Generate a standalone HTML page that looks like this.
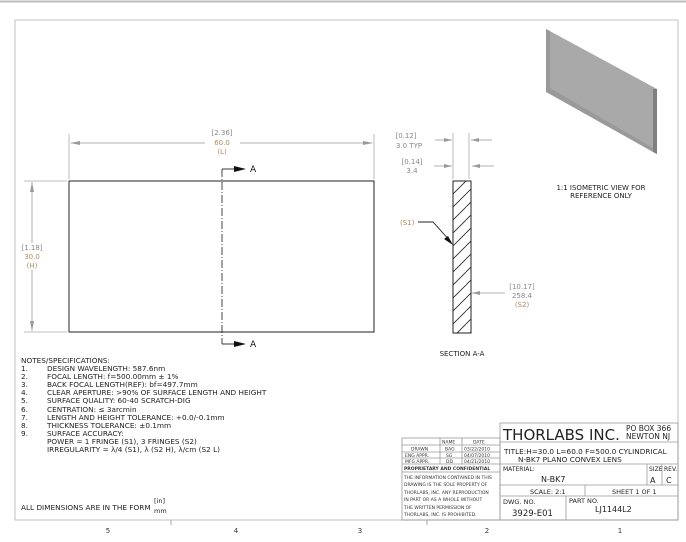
<!DOCTYPE html>
<html><head><meta charset="utf-8"><style>
html,body{margin:0;padding:0;background:#fff;}
svg{display:block;font-family:"DejaVu Sans","Liberation Sans",sans-serif;}
</style></head><body>
<svg width="686" height="542" viewBox="0 0 686 542" xmlns="http://www.w3.org/2000/svg">
<defs>
<pattern id="h" width="13" height="13" patternUnits="userSpaceOnUse" patternTransform="translate(453,181)">
<line x1="0" y1="13" x2="13" y2="0" stroke="#222" stroke-width="0.8"/>
<line x1="-13" y1="13" x2="0" y2="0" stroke="#222" stroke-width="0.8"/>
<line x1="13" y1="13" x2="26" y2="0" stroke="#222" stroke-width="0.8"/>
</pattern>
</defs>
<line x1="0" y1="1.5" x2="686" y2="1.5" stroke="#bbb" stroke-width="2"/>
<rect x="15" y="20" width="663" height="500" fill="none" stroke="#ccc" stroke-width="1.2"/>

<!-- iso view -->
<polygon points="546,29 657,89 657,154 546,92" fill="#a9a9a9"/>
<polygon points="546,29 550,31 550,94 546,92" fill="#999"/>
<polygon points="653,89 657,89 657,154 653,152" fill="#808080"/>
<polygon points="550,88 653,148 653,152 550,94" fill="#9a9a9a"/>
<text x="601" y="190" font-size="7" text-anchor="middle" fill="#222">1:1 ISOMETRIC VIEW FOR</text>
<text x="601" y="198" font-size="7" text-anchor="middle" fill="#222">REFERENCE ONLY</text>

<!-- front view -->
<rect x="69" y="181" width="305" height="151" fill="none" stroke="#222" stroke-width="1"/>
<line x1="69" y1="134" x2="69" y2="179" stroke="#aaa" stroke-width="0.8"/>
<line x1="374" y1="134" x2="374" y2="179" stroke="#aaa" stroke-width="0.8"/>
<line x1="71" y1="143" x2="205" y2="143" stroke="#999" stroke-width="0.8"/>
<line x1="240" y1="143" x2="372" y2="143" stroke="#999" stroke-width="0.8"/>
<polygon points="70,143 80,141 80,145" fill="#999"/>
<polygon points="373,143 363,141 363,145" fill="#999"/>
<text x="222" y="135" font-size="7" text-anchor="middle" fill="#888">[2.36]</text>
<text x="222" y="145" font-size="7" text-anchor="middle" fill="#b08a5a">60.0</text>
<text x="222" y="154" font-size="7" text-anchor="middle" fill="#b08a5a">(L)</text>
<line x1="24" y1="181" x2="67" y2="181" stroke="#aaa" stroke-width="0.8"/>
<line x1="24" y1="332" x2="67" y2="332" stroke="#aaa" stroke-width="0.8"/>
<line x1="32" y1="182" x2="32" y2="243" stroke="#999" stroke-width="0.8"/>
<line x1="32" y1="270" x2="32" y2="331" stroke="#999" stroke-width="0.8"/>
<polygon points="32,182 30,192 34,192" fill="#999"/>
<polygon points="32,331 30,321 34,321" fill="#999"/>
<text x="32" y="250" font-size="7" text-anchor="middle" fill="#888">[1.18]</text>
<text x="32" y="259" font-size="7" text-anchor="middle" fill="#b08a5a">30.0</text>
<text x="32" y="268" font-size="7" text-anchor="middle" fill="#b08a5a">(H)</text>
<line x1="222" y1="169" x2="222" y2="344" stroke="#333" stroke-width="0.9" stroke-dasharray="8,2,1,2"/>
<polyline points="222,169 236,169" fill="none" stroke="#222" stroke-width="0.9"/>
<polygon points="234,166 246,169 234,172" fill="#111"/>
<text x="250" y="172" font-size="9" fill="#111">A</text>
<polyline points="222,344 236,344" fill="none" stroke="#222" stroke-width="0.9"/>
<polygon points="234,341 246,344 234,347" fill="#111"/>
<text x="250" y="347" font-size="9" fill="#111">A</text>

<!-- section -->
<rect x="453" y="181" width="18" height="152" fill="url(#h)" stroke="#222" stroke-width="1"/>
<line x1="453" y1="133" x2="453" y2="179" stroke="#aaa" stroke-width="0.8"/>
<line x1="469" y1="133" x2="469" y2="179" stroke="#aaa" stroke-width="0.8"/>
<line x1="435" y1="140" x2="452" y2="140" stroke="#999" stroke-width="0.8"/>
<polygon points="452,140 444,138 444,142" fill="#999"/>
<line x1="471" y1="140" x2="492" y2="140" stroke="#999" stroke-width="0.8"/>
<polygon points="471,140 479,138 479,142" fill="#999"/>
<line x1="434" y1="166" x2="452" y2="166" stroke="#999" stroke-width="0.8"/>
<polygon points="452,166 444,164 444,168" fill="#999"/>
<line x1="472" y1="166" x2="494" y2="166" stroke="#999" stroke-width="0.8"/>
<polygon points="472,166 480,164 480,168" fill="#999"/>
<text x="406" y="138" font-size="7" text-anchor="middle" fill="#888">[0.12]</text>
<text x="396" y="148" font-size="7" fill="#888">3.0  TYP</text>
<text x="412" y="164" font-size="7" text-anchor="middle" fill="#888">[0.14]</text>
<text x="412" y="173" font-size="7" text-anchor="middle" fill="#888">3.4</text>
<text x="400" y="225" font-size="7" fill="#b08a5a">(S1)</text>
<polyline points="418,222 433,222 451,242" fill="none" stroke="#222" stroke-width="0.9"/>
<polygon points="453,245 444,239 448,236" fill="#111"/>
<line x1="472" y1="293" x2="505" y2="293" stroke="#999" stroke-width="0.8"/>
<polygon points="472,293 480,291 480,295" fill="#999"/>
<text x="522" y="289" font-size="7" text-anchor="middle" fill="#888">[10.17]</text>
<text x="522" y="298" font-size="7" text-anchor="middle" fill="#888">258.4</text>
<text x="522" y="307" font-size="7" text-anchor="middle" fill="#b08a5a">(S2)</text>
<text x="462" y="356" font-size="7" text-anchor="middle" fill="#222">SECTION A-A</text>

<!-- notes -->
<g font-size="7.3" fill="#222">
<text x="21" y="363">NOTES/SPECIFICATIONS:</text>
<text x="21" y="371">1.</text><text x="47" y="371">DESIGN WAVELENGTH: 587.6nm</text>
<text x="21" y="379">2.</text><text x="47" y="379">FOCAL LENGTH: f=500.00mm ± 1%</text>
<text x="21" y="387">3.</text><text x="47" y="387">BACK FOCAL LENGTH(REF): bf=497.7mm</text>
<text x="21" y="395">4.</text><text x="47" y="395">CLEAR APERTURE: &gt;90% OF SURFACE LENGTH AND HEIGHT</text>
<text x="21" y="403">5.</text><text x="47" y="403">SURFACE QUALITY: 60-40 SCRATCH-DIG</text>
<text x="21" y="412">6.</text><text x="47" y="412">CENTRATION: ≤ 3arcmin</text>
<text x="21" y="420">7.</text><text x="47" y="420">LENGTH AND HEIGHT TOLERANCE: +0.0/-0.1mm</text>
<text x="21" y="428">8.</text><text x="47" y="428">THICKNESS TOLERANCE: ±0.1mm</text>
<text x="21" y="436">9.</text><text x="47" y="436">SURFACE ACCURACY:</text>
<text x="47" y="444">POWER = 1 FRINGE (S1), 3 FRINGES (S2)</text>
<text x="47" y="452">IRREGULARITY = λ/4 (S1), λ (S2 H), λ/cm (S2 L)</text>
<text x="21" y="510">ALL DIMENSIONS ARE IN THE FORM</text>
<text x="154" y="503" font-size="6.5">[in]</text>
<text x="154" y="513" font-size="6.5">mm</text>
</g>

<!-- zone numbers -->
<g font-size="7" fill="#333" text-anchor="middle">
<text x="108" y="533">5</text><text x="236" y="533">4</text><text x="360" y="533">3</text><text x="487" y="533">2</text><text x="620" y="533">1</text>
</g>
<line x1="171" y1="520" x2="171" y2="525" stroke="#aaa"/><line x1="427" y1="520" x2="427" y2="525" stroke="#aaa"/>

<!-- title block -->
<g stroke="#999" stroke-width="0.8" fill="none">
<rect x="402" y="438" width="98" height="82"/>
<line x1="402" y1="445" x2="500" y2="445"/><line x1="402" y1="452" x2="500" y2="452"/><line x1="402" y1="458" x2="500" y2="458"/><line x1="402" y1="464" x2="500" y2="464"/><line x1="402" y1="472" x2="500" y2="472"/>
<line x1="440" y1="438" x2="440" y2="464"/><line x1="462" y1="438" x2="462" y2="464"/>
<rect x="500" y="423" width="178" height="97"/>
<line x1="500" y1="442" x2="678" y2="442"/><line x1="500" y1="464" x2="678" y2="464"/><line x1="500" y1="485" x2="678" y2="485"/><line x1="500" y1="496" x2="678" y2="496"/>
<line x1="647" y1="464" x2="647" y2="485"/><line x1="662" y1="464" x2="662" y2="485"/>
<line x1="585" y1="485" x2="585" y2="496"/><line x1="566" y1="496" x2="566" y2="520"/>
</g>
<g font-size="4.5" fill="#333">
<text x="442" y="443.5">NAME</text><text x="473" y="443.5">DATE</text>
<text x="411" y="450.5">DRAWN</text><text x="445" y="450.5">BAG</text><text x="464" y="450.5">03/22/2010</text>
<text x="405" y="457">ENG APPR.</text><text x="446" y="457">SG</text><text x="464" y="457">04/07/2010</text>
<text x="405" y="463">MFG APPR.</text><text x="446" y="463">DD</text><text x="464" y="463">04/21/2010</text>
<text x="404" y="470" font-weight="bold">PROPRIETARY AND CONFIDENTIAL</text>
<text x="404" y="479">THE INFORMATION CONTAINED IN THIS</text>
<text x="404" y="486">DRAWING IS THE SOLE PROPERTY OF</text>
<text x="404" y="494">THORLABS, INC.  ANY REPRODUCTION</text>
<text x="404" y="501">IN PART OR AS A WHOLE WITHOUT</text>
<text x="404" y="509">THE WRITTEN PERMISSION OF</text>
<text x="404" y="516">THORLABS, INC. IS PROHIBITED.</text>
</g>
<g fill="#222">
<text x="503" y="440" font-size="15">THORLABS INC.</text>
<text x="626" y="431" font-size="7.5">PO BOX 366</text>
<text x="626" y="439" font-size="7.5">NEWTON NJ</text>
<text x="504" y="454" font-size="7.3">TITLE:H=30.0 L=60.0 F=500.0 CYLINDRICAL</text>
<text x="518" y="462" font-size="7.3">N-BK7 PLANO CONVEX LENS</text>
<text x="503" y="471" font-size="6">MATERIAL:</text>
<text x="541" y="482" font-size="8">N-BK7</text>
<text x="649" y="471" font-size="6">SIZE</text><text x="664" y="471" font-size="6">REV.</text>
<text x="650" y="483" font-size="8">A</text><text x="666" y="483" font-size="8">C</text>
<text x="530" y="494" font-size="6.5">SCALE: 2:1</text>
<text x="612" y="494" font-size="6.5">SHEET 1 OF 1</text>
<text x="503" y="504" font-size="6.5">DWG. NO.</text>
<text x="512" y="516" font-size="8.5">3929-E01</text>
<text x="569" y="503" font-size="6.5">PART NO.</text>
<text x="595" y="512" font-size="8">LJ1144L2</text>
</g>
</svg>
</body></html>
